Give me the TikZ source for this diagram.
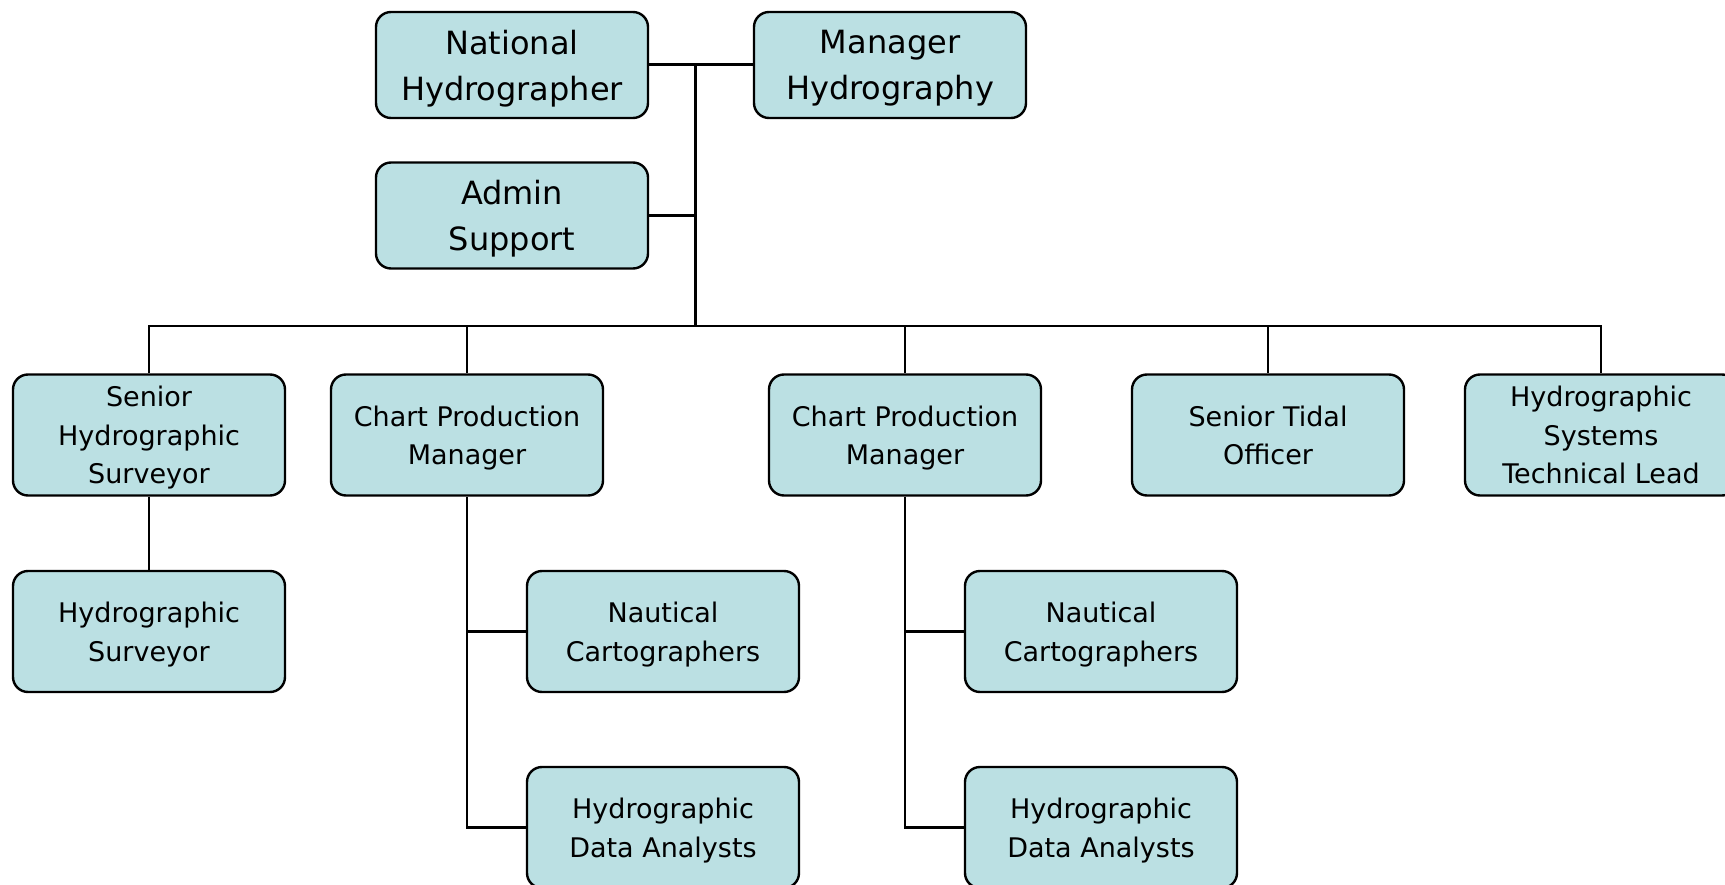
\documentclass[tikz,border=0pt]{standalone}
\usepackage{fontspec}
\setmainfont{DejaVu Sans}
\definecolor{boxfill}{RGB}{187,224,227}
\tikzset{
  box/.style={draw=black, line width=2.4pt, fill=boxfill, rounded corners=15pt,
    minimum width=272pt, inner sep=0pt, align=center, text=black, text depth=0pt,
    execute at begin node={\rule{0pt}{0.76em}}},
  topbox/.style={box, minimum height=106pt, font=\fontsize{32}{46}\selectfont},
  rowbox/.style={box, minimum height=121pt, font=\fontsize{27}{38.5}\selectfont},
  conn/.style={draw=black, line width=2.2pt},
  topconn/.style={draw=black, line width=3pt},
}
\begin{document}
\begin{tikzpicture}[x=1pt,y=-1pt]
\useasboundingbox (0,0) rectangle (1725,885);
\clip (0,0) rectangle (1725,885);
% top
\node[topbox] (nh) at (512,65) {National\\Hydrographer};
\node[topbox] (mh) at (890,65) {Manager\\Hydrography};
\node[topbox] (adm) at (512,215.5) {Admin\\Support};
% row 2
\node[rowbox] (shs) at (149,435) {Senior\\Hydrographic\\Surveyor};
\node[rowbox] (cpma) at (467,435) {Chart Production\\Manager};
\node[rowbox] (cpmb) at (905,435) {Chart Production\\Manager};
\node[rowbox] (sto) at (1268,435) {Senior Tidal\\Officer};
\node[rowbox] (hstl) at (1601,435) {Hydrographic\\Systems\\Technical Lead};
% row 3
\node[rowbox] (hs) at (149,631.5) {Hydrographic\\Surveyor};
\node[rowbox] (nca) at (663,631.5) {Nautical\\Cartographers};
\node[rowbox] (ncb) at (1101,631.5) {Nautical\\Cartographers};
% row 4
\node[rowbox] (daa) at (663,827.5) {Hydrographic\\Data Analysts};
\node[rowbox] (dab) at (1101,827.5) {Hydrographic\\Data Analysts};
% connectors
\coordinate (jt) at (695,65);
\coordinate (jb) at (695,326);
\draw[topconn] (nh.east) -- (mh.west);
\draw[topconn] (jt) -- (jb);
\draw[conn] (adm.east) -- (adm.east -| jt);
\draw[conn] (shs.north) -- (shs.north |- jb) -- (hstl.north |- jb) -- (hstl.north);
\draw[conn] (cpma.north |- jb) -- (cpma.north);
\draw[conn] (cpmb.north |- jb) -- (cpmb.north);
\draw[conn] (sto.north |- jb) -- (sto.north);
\draw[conn] (shs.south) -- (hs.north);
\draw[conn] (cpma.south) |- (daa.west);
\draw[conn] (cpma.south |- nca.west) -- (nca.west);
\draw[conn] (cpmb.south) |- (dab.west);
\draw[conn] (cpmb.south |- ncb.west) -- (ncb.west);
\end{tikzpicture}
\end{document}
